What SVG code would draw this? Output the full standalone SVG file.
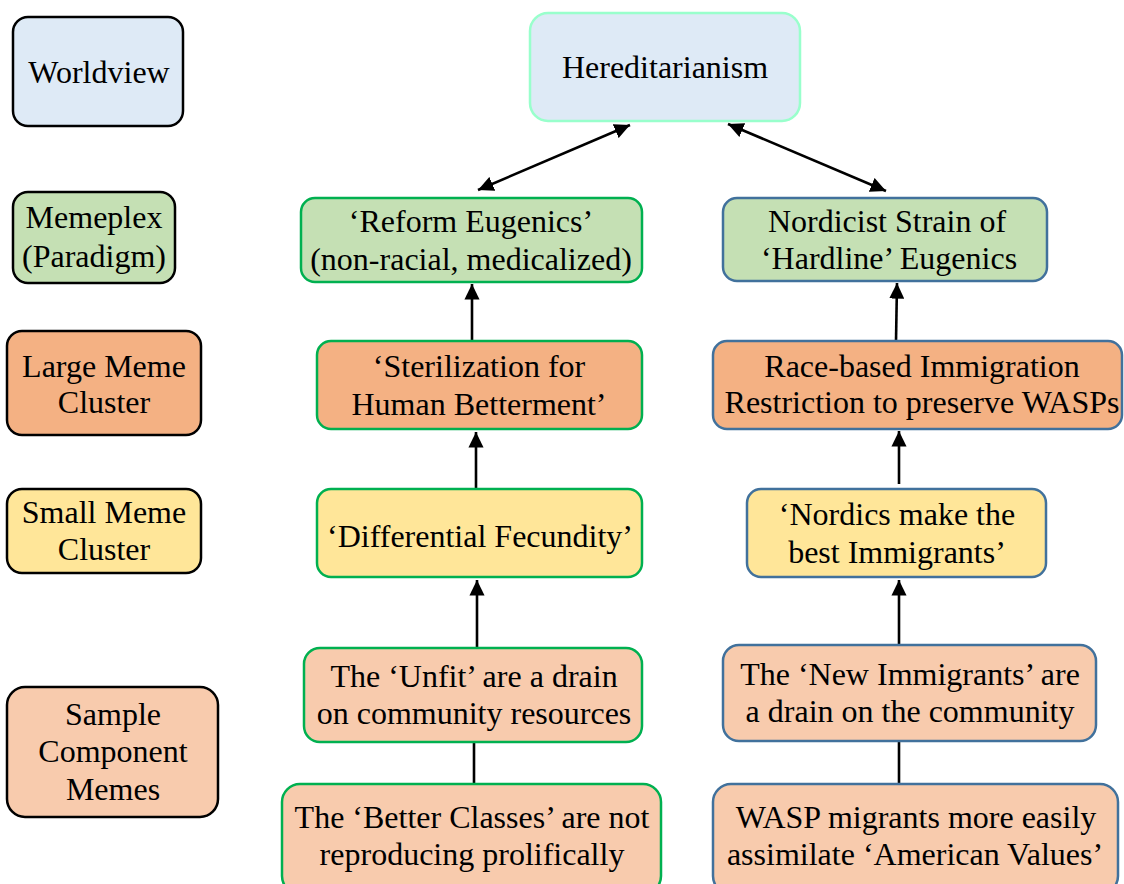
<svg xmlns="http://www.w3.org/2000/svg" width="1124" height="884" viewBox="0 0 1124 884" font-family="Liberation Serif, Times New Roman, serif" font-size="32">
  <defs>
    <marker id="arrow" viewBox="0 0 10 10" refX="10" refY="5" markerWidth="6" markerHeight="5.8" markerUnits="strokeWidth" orient="auto-start-reverse" preserveAspectRatio="none">
      <path d="M0,0 L10,5 L0,10 Z" fill="#000"/>
    </marker>
    <style>
      text { fill: #000; text-anchor: middle; }
      .legend rect { stroke: #000; stroke-width: 2.5; }
      .green { stroke: #00B050; stroke-width: 2.5; }
      .blue { stroke: #41719C; stroke-width: 2.5; }
      .mint { stroke: #99FFCC; stroke-width: 2.5; }
      .sky { fill: #DEEAF6; }
      .sage { fill: #C5E0B4; }
      .peach { fill: #F4B183; }
      .butter { fill: #FFE699; }
      .blush { fill: #F8CBAD; }
      .conn line { stroke: #000; stroke-width: 2.6; fill: none; }
    </style>
  </defs>
  <rect width="1124" height="884" fill="#fff"/>

  <!-- legend column -->
  <g class="legend">
    <g id="legend-worldview">
      <rect class="sky" x="13" y="17" width="170" height="109" rx="15"/>
      <text x="99" y="83">Worldview</text>
    </g>
    <g id="legend-memeplex">
      <rect class="sage" x="13" y="192" width="162" height="91" rx="15"/>
      <text x="94" y="228">Memeplex</text>
      <text x="94" y="267">(Paradigm)</text>
    </g>
    <g id="legend-large">
      <rect class="peach" x="7" y="331" width="194" height="104" rx="15"/>
      <text x="104" y="377">Large Meme</text>
      <text x="104" y="413">Cluster</text>
    </g>
    <g id="legend-small">
      <rect class="butter" x="7" y="489" width="194" height="84" rx="15"/>
      <text x="104" y="523">Small Meme</text>
      <text x="104" y="560">Cluster</text>
    </g>
    <g id="legend-component">
      <rect class="blush" x="7" y="687" width="211" height="130" rx="18"/>
      <text x="113" y="725">Sample</text>
      <text x="113" y="762">Component</text>
      <text x="113" y="800">Memes</text>
    </g>
  </g>

  <!-- connectors -->
  <g class="conn" id="connectors">
    <line x1="478" y1="190" x2="630" y2="125" marker-start="url(#arrow)" marker-end="url(#arrow)"/>
    <line x1="728" y1="124" x2="886" y2="191" marker-start="url(#arrow)" marker-end="url(#arrow)"/>
    <line x1="472" y1="341" x2="472" y2="284" marker-end="url(#arrow)"/>
    <line x1="476" y1="489" x2="476" y2="432" marker-end="url(#arrow)"/>
    <line x1="477" y1="648" x2="477" y2="580" marker-end="url(#arrow)"/>
    <line x1="474" y1="742" x2="474" y2="784"/>
    <line x1="896" y1="341" x2="897" y2="283" marker-end="url(#arrow)"/>
    <line x1="899" y1="484" x2="899" y2="431" marker-end="url(#arrow)"/>
    <line x1="899" y1="645" x2="899" y2="580" marker-end="url(#arrow)"/>
    <line x1="899" y1="741" x2="899" y2="784"/>
  </g>

  <!-- worldview -->
  <g id="hereditarianism">
    <rect class="sky mint" x="530" y="13" width="270" height="108" rx="18"/>
    <text x="665" y="78">Hereditarianism</text>
  </g>

  <!-- memeplexes -->
  <g id="reform-eugenics">
    <rect class="sage green" x="301" y="198" width="341" height="84" rx="14"/>
    <text x="471" y="232">‘Reform Eugenics’</text>
    <text x="471" y="270">(non-racial, medicalized)</text>
  </g>
  <g id="nordicist-eugenics">
    <rect class="sage blue" x="723" y="198" width="324" height="83" rx="14"/>
    <text x="887" y="232">Nordicist Strain of</text>
    <text x="889" y="269">‘Hardline’ Eugenics</text>
  </g>

  <!-- large meme clusters -->
  <g id="sterilization">
    <rect class="peach green" x="317" y="341" width="325" height="88" rx="14"/>
    <text x="479" y="377">‘Sterilization for</text>
    <text x="479" y="415">Human Betterment’</text>
  </g>
  <g id="immigration-restriction">
    <rect class="peach blue" x="713" y="341" width="409" height="88" rx="14"/>
    <text x="922" y="377">Race-based Immigration</text>
    <text x="922" y="413">Restriction to preserve WASPs</text>
  </g>

  <!-- small meme clusters -->
  <g id="differential-fecundity">
    <rect class="butter green" x="317" y="489" width="325" height="88" rx="14"/>
    <text x="480" y="547">‘Differential Fecundity’</text>
  </g>
  <g id="nordics-best">
    <rect class="butter blue" x="747" y="489" width="299" height="88" rx="14"/>
    <text x="897" y="525">‘Nordics make the</text>
    <text x="897" y="563">best Immigrants’</text>
  </g>

  <!-- component memes -->
  <g id="unfit-drain">
    <rect class="blush green" x="304" y="648" width="338" height="94" rx="16"/>
    <text x="474" y="687">The ‘Unfit’ are a drain</text>
    <text x="474" y="724">on community resources</text>
  </g>
  <g id="better-classes">
    <rect class="blush green" x="282" y="784" width="379" height="110" rx="18"/>
    <text x="472" y="828">The ‘Better Classes’ are not</text>
    <text x="472" y="865">reproducing prolifically</text>
  </g>
  <g id="new-immigrants">
    <rect class="blush blue" x="723" y="645" width="373" height="96" rx="16"/>
    <text x="910" y="685">The ‘New Immigrants’ are</text>
    <text x="910" y="722">a drain on the community</text>
  </g>
  <g id="wasp-assimilate">
    <rect class="blush blue" x="713" y="784" width="405" height="110" rx="18"/>
    <text x="916" y="828">WASP migrants more easily</text>
    <text x="915" y="865">assimilate ‘American Values’</text>
  </g>
</svg>
